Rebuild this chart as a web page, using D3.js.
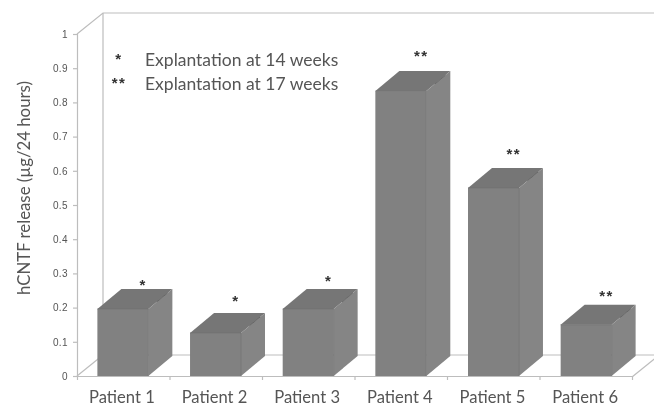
<!DOCTYPE html>
<html>
<head>
<meta charset="utf-8">
<script src="https://cdn.jsdelivr.net/npm/d3@7"></script>
<style>
    html, body { margin: 0; padding: 0; background: #fff; }
    svg { display: block; }
</style>
</head>
<body>
<div id="chart"></div>
<script>
// Values
const patients = ['Patient 1', 'Patient 2', 'Patient 3', 'Patient 4', 'Patient 5', 'Patient 6'];
const release = [0.196, 0.126, 0.196, 0.833, 0.55, 0.15];
const stars = ['*', '*', '*', '**', '**', '**'];
const starLevels = [0.265, 0.22, 0.277, 0.935, 0.65, 0.235];
const yTicks = [0, 0.1, 0.2, 0.3, 0.4, 0.5, 0.6, 0.7, 0.8, 0.9, 1];
const legendRows = [['*', 'Explantation at 14 weeks'], ['**', 'Explantation at 17 weeks']];

const width = 654;
const height = 408;
const left = 77;
const right = 632;
const bottom = 376;
const top_ = 34;
const depthX = 26;
const depthY = 21;
const barDepthX = 24;
const barDepthY = 20;
const textColor = '#555';
const frameColor = '#bdbdbd';

const svg = d3.select('#chart')
    .append('svg')
    .attr('width', width)
    .attr('height', height)
    .attr('viewBox', [0, 0, width, height]);

// the scan is a bit soft
svg.append('filter')
    .attr('id', 'soft')
    .append('feGaussianBlur')
    .attr('stdDeviation', 0.5);

const chart = svg.append('g').attr('filter', 'url(#soft)');

const x = d3.scaleBand()
    .domain(patients)
    .range([left, right])
    .paddingInner(0.45)
    .paddingOuter(0.22);
const xEdges = d3.scaleLinear().domain([0, patients.length]).range([left, right]);
const y = d3.scaleLinear().domain([0, 1]).range([bottom, top_]);

const line = d3.line();

// Back wall and floor
const frame = [
    [[left, top_], [left + depthX, top_ - depthY], [width, top_ - depthY]],
    [[left + depthX, top_ - depthY], [left + depthX, bottom - depthY], [width, bottom - depthY]],
    [[left, bottom], [left + depthX, bottom - depthY]],
    [[right, bottom + 1], [right + depthX, bottom + 1 - depthY]]
];
chart.selectAll('.frame')
    .data(frame)
    .join('path')
    .attr('class', 'frame')
    .attr('d', line)
    .attr('fill', 'none')
    .attr('stroke', frameColor)
    .attr('stroke-width', 1.2);

// Axes
const yAxis = d3.axisLeft(y)
    .tickValues(yTicks)
    .tickFormat(d3.format('~g'))
    .tickSize(4)
    .tickPadding(5);
const yGroup = chart.append('g')
    .attr('transform', `translate(${left},0)`)
    .call(yAxis);
yGroup.selectAll('line, path').attr('stroke', frameColor).attr('stroke-width', 1.2);
yGroup.selectAll('text')
    .attr('fill', textColor)
    .style('font-family', '"Liberation Sans"')
    .style('font-size', '10px')
    .style('letter-spacing', '0.4px');

const edgeAxis = d3.axisBottom(xEdges)
    .tickValues(d3.range(0, patients.length + 1))
    .tickFormat('')
    .tickSize(4)
    .tickSizeOuter(0);
chart.append('g')
    .attr('transform', `translate(0,${bottom})`)
    .call(edgeAxis)
    .selectAll('line, path')
    .attr('stroke', frameColor)
    .attr('stroke-width', 1.2);

const xAxis = d3.axisBottom(x).tickSize(0).tickPadding(15);
const xGroup = chart.append('g')
    .attr('transform', `translate(-1,${bottom})`)
    .call(xAxis);
xGroup.select('.domain').remove();
xGroup.selectAll('text')
    .attr('fill', textColor)
    .style('font-family', 'Lato')
    .style('font-size', '16.6px');

// 3D bars
const bars = chart.selectAll('.bar')
    .data(patients.map((name, i) => ({ name, value: release[i] })))
    .join('g')
    .attr('class', 'bar');

const x0 = d => x(d.name);
const x1 = d => x(d.name) + x.bandwidth();

bars.append('path')
    .attr('d', d => line([[x0(d), y(d.value)], [x0(d) + barDepthX, y(d.value) - barDepthY], [x1(d) + barDepthX, y(d.value) - barDepthY], [x1(d), y(d.value)]]) + 'Z')
    .attr('fill', '#767676');
bars.append('path')
    .attr('d', d => line([[x1(d), y(d.value)], [x1(d) + barDepthX, y(d.value) - barDepthY], [x1(d) + barDepthX, bottom - barDepthY], [x1(d), bottom]]) + 'Z')
    .attr('fill', '#858585');
bars.append('rect')
    .attr('x', x0)
    .attr('y', d => y(d.value))
    .attr('width', x.bandwidth())
    .attr('height', d => bottom - y(d.value))
    .attr('fill', '#818181');
// darker seams along the box edges
bars.append('path')
    .attr('d', d => line([[x0(d), y(d.value)], [x1(d), y(d.value)], [x1(d), bottom]]))
    .attr('fill', 'none')
    .attr('stroke', '#707070')
    .attr('stroke-width', 0.7);
bars.append('path')
    .attr('d', d => line([[x1(d) + barDepthX * 0.35, y(d.value) - barDepthY * 0.35], [x1(d) + barDepthX * 0.8, y(d.value) - barDepthY * 0.8]]))
    .attr('stroke', '#5a5a5a')
    .attr('stroke-width', 0.8);

// Stars above the bars
chart.selectAll('.star')
    .data(patients)
    .join('text')
    .attr('class', 'star')
    .attr('x', d => x(d) + x.bandwidth() / 2 + barDepthX * 0.85)
    .attr('y', (d, i) => y(starLevels[i]) + 5)
    .attr('text-anchor', 'middle')
    .attr('fill', '#333')
    .style('font-family', '"Liberation Sans"')
    .style('font-size', '15px')
    .style('font-weight', 'bold')
    .style('letter-spacing', '1.5px')
    .text((d, i) => stars[i]);

// Legend
const legend = chart.selectAll('.legend')
    .data(legendRows)
    .join('g')
    .attr('class', 'legend')
    .attr('transform', (d, i) => `translate(0,${62 + i * 24})`);
legend.append('text')
    .attr('x', 119)
    .attr('y', 2)
    .attr('text-anchor', 'middle')
    .attr('fill', '#333')
    .style('font-family', '"Liberation Sans"')
    .style('font-size', '15px')
    .style('font-weight', 'bold')
    .style('letter-spacing', '1.5px')
    .text(d => d[0]);
legend.append('text')
    .attr('x', 145)
    .attr('y', 4)
    .attr('fill', textColor)
    .style('font-family', 'Lato')
    .style('font-size', '17.5px')
    .text(d => d[1]);

// Y title
chart.append('text')
    .attr('transform', 'translate(30,188) rotate(-90)')
    .attr('text-anchor', 'middle')
    .attr('fill', textColor)
    .style('font-family', 'Lato')
    .style('font-size', '16.8px')
    .text('hCNTF release (µg/24 hours)');
</script>
</body>
</html>
